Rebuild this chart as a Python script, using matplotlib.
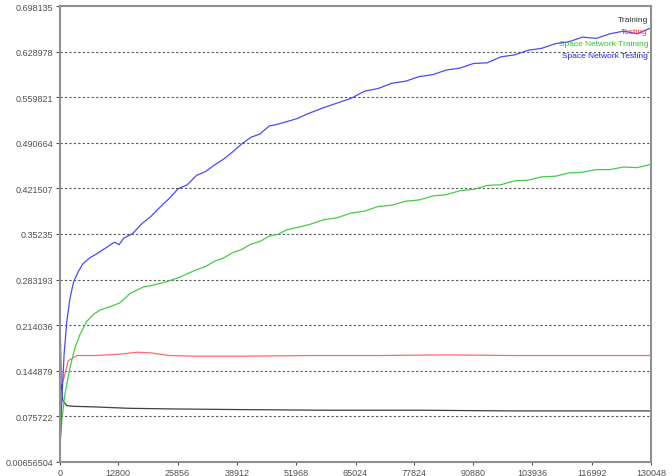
import matplotlib
matplotlib.use("Agg")
import matplotlib.pyplot as plt

plt.rcParams['font.family'] = ['Liberation Sans', 'DejaVu Sans']

# y axis ticks (as shown on the chart)
y_ticks = [0.00656504, 0.075722, 0.144879, 0.214036, 0.283193, 0.35235,
           0.421507, 0.490664, 0.559821, 0.628978, 0.698135]
y_labels = ["0.00656504", "0.075722", "0.144879", "0.214036", "0.283193", "0.35235",
            "0.421507", "0.490664", "0.559821", "0.628978", "0.698135"]
x_ticks = [0, 12800, 25856, 38912, 51968, 65024, 77824, 90880, 103936, 116992, 130048]

# series
blue_x = [0, 400, 900, 1500, 2200, 3000, 4000, 5000, 6500, 8000, 10000, 12000, 13000,
          14000, 16000, 18000, 20000, 22000, 24000, 26000, 28000, 30000, 32000, 34000,
          36000, 38000, 40000, 42000, 44000, 46000, 48000, 50000, 52000, 55000, 58000,
          61000, 64000, 67000, 70000, 73000, 76000, 79000, 82000, 85000, 88000, 91000,
          94000, 97000, 100000, 103000, 106000, 109000, 112000, 115000, 118000, 121000,
          124000, 127000, 130048]
blue_y = [0.03, 0.10, 0.17, 0.22, 0.255, 0.28, 0.295, 0.307, 0.316, 0.322, 0.331, 0.34, 0.336,
          0.346, 0.353, 0.368, 0.379, 0.393, 0.406, 0.421, 0.427, 0.441, 0.447, 0.457,
          0.466, 0.477, 0.489, 0.499, 0.504, 0.516, 0.519, 0.523, 0.527, 0.536, 0.544,
          0.551, 0.558, 0.569, 0.573, 0.581, 0.584, 0.591, 0.594, 0.601, 0.604, 0.611,
          0.612, 0.621, 0.624, 0.631, 0.634, 0.641, 0.644, 0.651, 0.649, 0.656,
          0.66, 0.656, 0.665]

green_x = [0, 400, 1100, 2200, 3300, 4400, 5900, 7500, 8800, 11000, 13200, 15400, 18300,
           20000, 23500, 26400, 28000, 30000, 32000, 34000, 36000, 38000, 40000, 42000,
           44000, 46000, 48000, 50000, 52000, 55000, 58000, 61000, 64000, 67000, 70000,
           73000, 76000, 79000, 82000, 85000, 88000, 91000, 94000, 97000, 100000, 103000,
           106000, 109000, 112000, 115000, 118000, 121000, 124000, 127000, 130048]
green_y = [0.03, 0.07, 0.11, 0.15, 0.18, 0.2, 0.22, 0.231, 0.237, 0.242, 0.248, 0.262, 0.272,
           0.274, 0.28, 0.287, 0.292, 0.298, 0.303, 0.311, 0.316, 0.324, 0.329, 0.337,
           0.341, 0.349, 0.352, 0.359, 0.362, 0.367, 0.374, 0.377, 0.384, 0.387, 0.394,
           0.396, 0.402, 0.404, 0.41, 0.412, 0.418, 0.42, 0.426, 0.427, 0.433, 0.434,
           0.439, 0.44, 0.445, 0.446, 0.45, 0.45, 0.454, 0.453, 0.458]

red_x = [0, 150, 400, 900, 1800, 3700, 8000, 13000, 17000, 20000, 24000, 30000, 40000,
         55000, 70000, 85000, 100000, 115000, 130048]
red_y = [0.226, 0.18, 0.125, 0.135, 0.16, 0.168, 0.168, 0.17, 0.173, 0.172, 0.168, 0.167,
         0.167, 0.168, 0.168, 0.169, 0.168, 0.168, 0.168]

black_x = [0, 200, 600, 1500, 3000, 8000, 15000, 25000, 40000, 60000, 80000, 100000,
           115000, 130048]
black_y = [0.172, 0.13, 0.1, 0.092, 0.091, 0.09, 0.088, 0.087, 0.086, 0.085, 0.085, 0.084,
           0.084, 0.084]

legend_names = ["Training", "Testing", "Space Network Training", "Space Network Testing"]
legend_colors = ["#303030", "#ff3030", "#30c030", "#2020ff"]

fig = plt.figure(figsize=(6.72, 4.77), dpi=100)
ax = fig.add_axes([0.0893, 0.0294, 0.8795, 0.9559])

ax.plot(black_x, black_y, color="#404040", lw=0.9)
ax.plot(red_x, red_y, color="#ff6a6a", lw=0.9)
ax.plot(green_x, green_y, color="#44cc44", lw=0.9)
ax.plot(blue_x, blue_y, color="#4a4aff", lw=0.9)

ax.set_xlim(0, 130048)
ax.set_ylim(y_ticks[0], y_ticks[-1])
ax.set_yticks(y_ticks)
ax.set_yticklabels(y_labels)
ax.set_xticks(x_ticks)
ax.set_xticklabels([str(v) for v in x_ticks])
ax.tick_params(labelsize=6.5, colors="#505050", length=2, pad=2)
ax.tick_params(axis="y", length=3)

for y in y_ticks[1:-1]:
    ax.axhline(y, color="#555555", lw=0.8, ls=(0, (2, 2)), zorder=0)

for s in ax.spines.values():
    s.set_color("#909090")
    s.set_linewidth(1.5)

for i, (name, c) in enumerate(zip(legend_names, legend_colors)):
    ax.text(0.995, 0.97 - i * 0.026, name, color=c, fontsize=6,
            ha="right", va="center", transform=ax.transAxes)

fig.savefig("out.png", dpi=100)
